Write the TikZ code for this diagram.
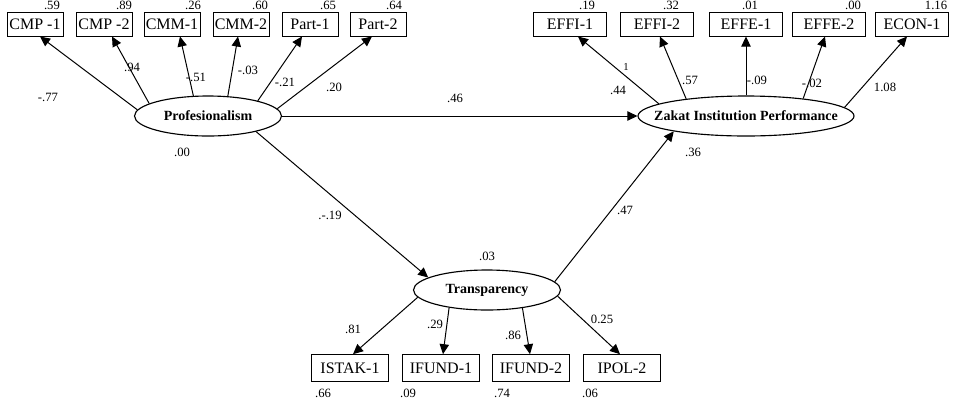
\documentclass[tikz,border=0pt]{standalone}
\usepackage{fontspec}
\setmainfont{Liberation Serif}
\usetikzlibrary{arrows.meta,shapes.geometric}
\begin{document}
\begin{tikzpicture}[x=0.75pt,y=-0.75pt,
  obs/.style={draw,line width=0.75pt,rectangle,inner sep=0pt,font=\fontsize{12}{14}\selectfont},
  topl/.style={obs,minimum width=42pt,minimum height=18pt},
  topr/.style={obs,minimum width=54.75pt,minimum height=18pt},
  botm/.style={obs,minimum width=57.75pt,minimum height=20pt},
  lat/.style={draw,ellipse,line width=0.85pt,inner sep=0pt,minimum height=30pt,font=\fontsize{10.5}{12}\selectfont\bfseries},
  num/.style={inner sep=0pt,font=\fontsize{9.5}{11}\selectfont},
  arr/.style={-{Triangle[length=7.5pt,width=7pt]},line width=0.75pt}]
\useasboundingbox (0,0) rectangle (957,401);

% latent variables
\node[lat,minimum width=110.25pt] (prof) at (208,116) {\makebox[0pt]{Profesionalism}};
\node[lat,minimum width=162pt] (zip) at (746,116) {\makebox[0pt]{Zakat Institution Performance}};
\node[lat,minimum width=110.25pt] (tra) at (487,290) {\makebox[0pt]{Transparency}};

% top left indicators
\node[topl] (cmp1) at (35,24) {CMP -1};
\node[topl] (cmp2) at (104,24) {CMP -2};
\node[topl] (cmm1) at (172,24) {CMM-1};
\node[topl] (cmm2) at (241,24) {CMM-2};
\node[topl] (part1) at (310,24) {Part-1};
\node[topl] (part2) at (378,24) {Part-2};

% top right indicators
\node[topr] (effi1) at (570,24) {EFFI-1};
\node[topr] (effi2) at (657,24) {EFFI-2};
\node[topr] (effe1) at (746,24) {EFFE-1};
\node[topr] (effe2) at (829,24) {EFFE-2};
\node[topr] (econ1) at (912,24) {ECON-1};

% bottom indicators
\node[botm] (istak1) at (350,368) {ISTAK-1};
\node[botm] (ifund1) at (441,368) {IFUND-1};
\node[botm] (ifund2) at (531,368) {IFUND-2};
\node[botm] (ipol2) at (622,368) {IPOL-2};

% loadings Profesionalism
\draw[arr] (prof.175.6) -- ([xshift=3.75pt]cmp1.south);
\draw[arr] (prof.168.6) -- ([xshift=6pt]cmp2.south);
\draw[arr] (prof.126) -- ([xshift=6pt]cmm1.south);
\draw[arr] (prof.45.3) -- ([xshift=-2.25pt]cmm2.south);
\draw[arr] (prof.17.7) -- ([xshift=-6pt]part1.south);
\draw[arr] (prof.6) -- ([xshift=-4.5pt]part2.south);

% loadings ZIP
\draw[arr] (zip.172.9) -- ([xshift=6pt]effi1.south);
\draw[arr] (zip.164.8) -- ([xshift=2.25pt]effi2.south);
\draw[arr] (zip.north) -- (effe1.south);
\draw[arr] (zip.17.8) -- ([xshift=-3pt]effe2.south);
\draw[arr] (zip.5.4) -- ([xshift=-3.75pt]econ1.south);

% loadings Transparency
\draw[arr] (tra.-174.8) -- ([xshift=2.25pt]istak1.north);
\draw[arr] (tra.-155.5) -- ([xshift=1.5pt]ifund1.north);
\draw[arr] (tra.-27) -- ([xshift=-0.75pt]ifund2.north);
\draw[arr] (tra.-5.2) -- ([xshift=-1.5pt]ipol2.north);

% structural paths
\draw[arr] (prof.east) -- (zip.west);
\draw[arr] (prof.-18.3) -- (tra.168);
\draw[arr] (tra.7.9) -- (zip.-168.9);

% variances / residuals
\node[num] (v1) at (52,5) {.59};
\node[num] (v2) at (124,5) {.89};
\node[num] (v3) at (193,5) {.26};
\node[num] (v4) at (260,5) {.60};
\node[num] (v5) at (328,5) {.65};
\node[num] (v6) at (394,5) {.64};
\node[num] (v7) at (587,5) {.19};
\node[num] (v8) at (671,5) {.32};
\node[num] (v9) at (750,5) {.01};
\node[num] (v10) at (853,5) {.00};
\node[num] (v11) at (936,5) {1.16};
\node[num] (v12) at (323,393) {.66};
\node[num] (v13) at (408,393) {.09};
\node[num] (v14) at (502,393) {.74};
\node[num] (v15) at (590,393) {.06};
\node[num] (v16) at (182,152) {.00};
\node[num] (v17) at (693,152) {.36};
\node[num] (v18) at (487,256) {.03};

% path coefficients
\node[num] (l1) at (48,97) {-.77};
\node[num] (l2) at (132,67) {.94};
\node[num] (l3) at (196,77) {-.51};
\node[num] (l4) at (248,70) {-.03};
\node[num] (l5) at (285,82) {-.21};
\node[num] (l6) at (334,87) {.20};
\node[num] (l7) at (455,98) {.46};
\node[num] (l8) at (330,215) {.-.19};
\node[num] (l9) at (625,210) {.47};
\node[num,font=\fontsize{8}{9}\selectfont] (l10) at (626,67) {1};
\node[num] (l11) at (618,90) {.44};
\node[num] (l12) at (690,80) {.57};
\node[num] (l13) at (757,80) {-.09};
\node[num] (l14) at (812,83) {-.02};
\node[num] (l15) at (885,87) {1.08};
\node[num] (l16) at (353,329) {.81};
\node[num] (l17) at (435,324) {.29};
\node[num] (l18) at (513,335) {.86};
\node[num] (l19) at (602,319) {0.25};
\end{tikzpicture}
\end{document}
